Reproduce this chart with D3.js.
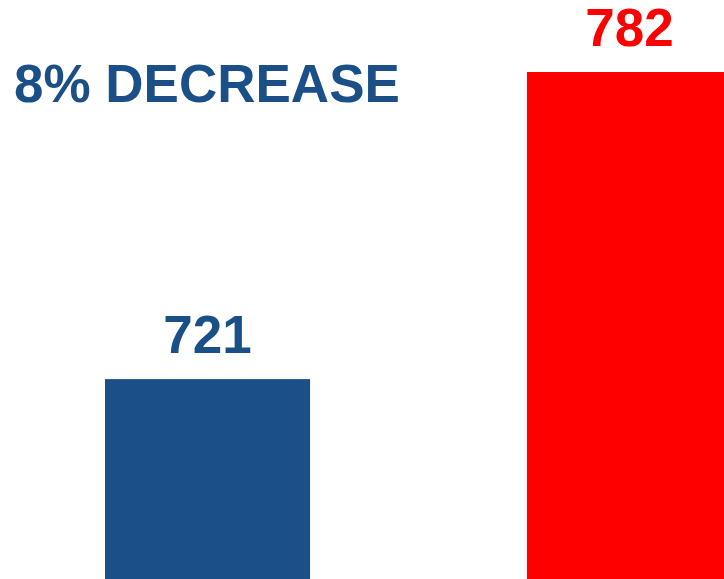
<!DOCTYPE html>
<html>
<head>
<meta charset="utf-8">
<script src="https://cdn.jsdelivr.net/npm/d3@7"></script>
<style>
  html, body { margin: 0; padding: 0; background: #fff; overflow: hidden; }
  svg { display: block; }
</style>
</head>
<body>
<svg id="chart" width="724" height="579"></svg>
<script>
const categories = ["Current", "Previous"];
const values = [721, 782];
const colors = ["#1b4f87", "#ff0000"];
const headline = "8% DECREASE";

const W = 724, H = 579;
const svg = d3.select("#chart");

const x = d3.scaleBand()
  .domain(categories)
  .range([105, 732])
  .paddingInner(0.514)
  .paddingOuter(0);

const y = d3.scaleLinear()
  .domain([681.3, 796.3])
  .range([H, 0]);

svg.selectAll("rect.bar")
  .data(values)
  .join("rect")
  .attr("class", "bar")
  .attr("x", (d, i) => x(categories[i]))
  .attr("width", x.bandwidth())
  .attr("y", d => y(d))
  .attr("height", d => H - y(d))
  .attr("fill", (d, i) => colors[i]);

svg.selectAll("text.val")
  .data(values)
  .join("text")
  .attr("class", "val")
  .attr("x", (d, i) => x(categories[i]) + x.bandwidth() / 2)
  .attr("y", d => y(d) - 26)
  .attr("text-anchor", "middle")
  .attr("font-family", "'Liberation Sans', Arial, sans-serif")
  .attr("font-weight", "bold")
  .attr("font-size", 53)
  .attr("fill", (d, i) => colors[i])
  .text(d => d);

svg.append("text")
  .attr("x", 14)
  .attr("y", 102)
  .attr("font-family", "'Liberation Sans', Arial, sans-serif")
  .attr("font-weight", "bold")
  .attr("font-size", 53)
  .attr("fill", colors[0])
  .text(headline);
</script>
</body>
</html>
